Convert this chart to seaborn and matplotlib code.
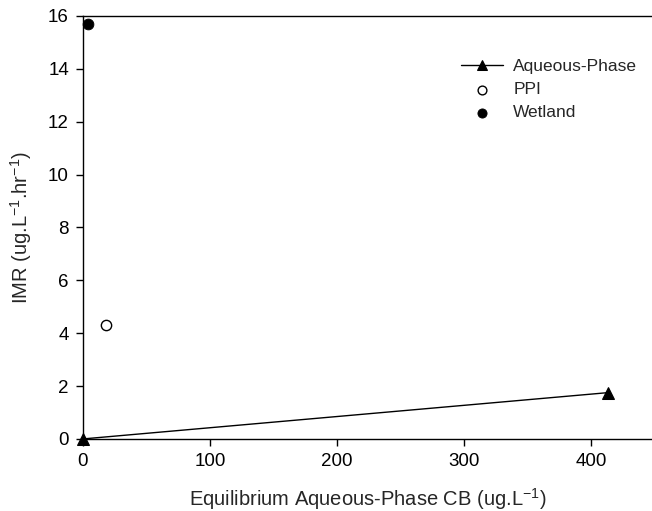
import matplotlib
matplotlib.use("Agg")
import matplotlib.pyplot as plt
import seaborn as sns
import pandas as pd

# values
aqueous_x = [0, 413]
aqueous_y = [0.0, 1.75]
ppi_x = [18]
ppi_y = [4.32]
wetland_x = [4]
wetland_y = [15.7]

x_ticks = [0, 100, 200, 300, 400]
y_ticks = [0, 2, 4, 6, 8, 10, 12, 14, 16]

sns.set_style("ticks")
plt.rcParams["font.family"] = ["Liberation Sans", "DejaVu Sans"]
plt.rcParams["mathtext.fontset"] = "custom"
plt.rcParams["mathtext.rm"] = "Liberation Sans"

fig = plt.figure(figsize=(6.52, 5.11), dpi=100)
ax = fig.add_axes([0.127, 0.141, 0.873, 0.828])

aq = pd.DataFrame({"x": aqueous_x, "y": aqueous_y})
sns.lineplot(
    data=aq, x="x", y="y", ax=ax,
    color="black", linewidth=1.0,
    marker="^", markersize=8, markeredgecolor="black",
    label="Aqueous-Phase", clip_on=False
)
sns.scatterplot(
    x=ppi_x, y=ppi_y, ax=ax,
    marker="o", s=55, facecolor="white", edgecolor="black", linewidth=1.0,
    label="PPI", clip_on=False
)
sns.scatterplot(
    x=wetland_x, y=wetland_y, ax=ax,
    marker="o", s=60, color="black", edgecolor="black",
    label="Wetland", clip_on=False
)

ax.set_xlim(0, 448)
ax.set_ylim(0, 16)
ax.set_xticks(x_ticks)
ax.set_yticks(y_ticks)
ax.tick_params(direction="out", length=5, width=1, labelsize=13.5, colors="black", pad=5)

for side in ["left", "bottom", "top"]:
    ax.spines[side].set_color("black")
    ax.spines[side].set_linewidth(1.0)
ax.spines["right"].set_visible(False)

ax.set_xlabel("Equilibrium Aqueous-Phase CB (ug.L$^{\\mathrm{-1}}$)", fontsize=14.5, labelpad=12)
ax.set_ylabel("IMR (ug.L$^{\\mathrm{-1}}$.hr$^{\\mathrm{-1}}$)", fontsize=14.5, labelpad=10)

ax.legend(
    loc="upper left", bbox_to_anchor=(0.665, 0.898),
    frameon=False, fontsize=12.5, handlelength=2.4,
    labelspacing=0.45, handletextpad=0.6,
    borderpad=0, borderaxespad=0, markerscale=0.85
)

fig.savefig("out.png", dpi=100)
